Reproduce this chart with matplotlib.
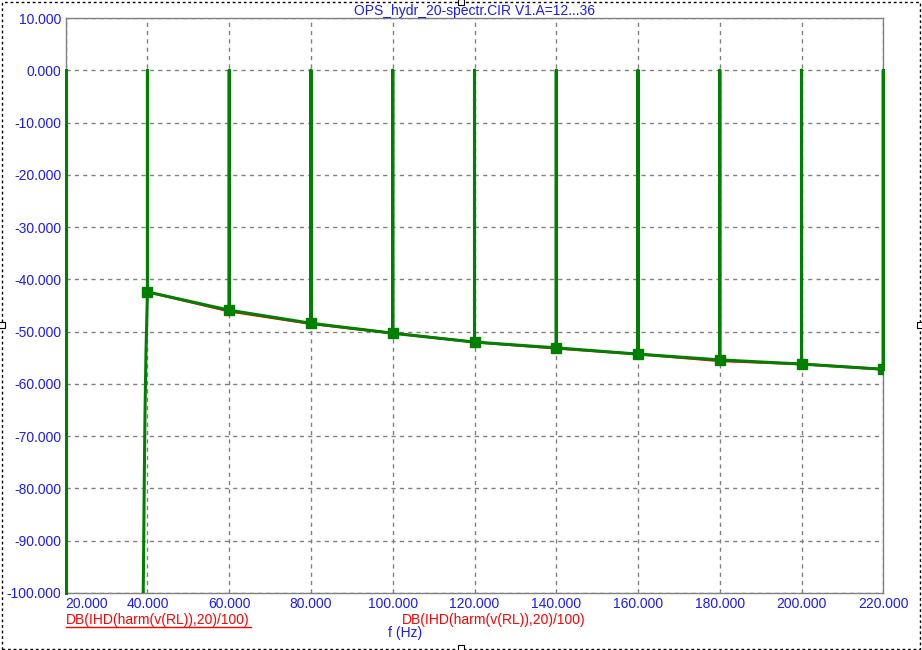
import matplotlib
matplotlib.use('agg')
import matplotlib.pyplot as plt
from matplotlib.lines import Line2D
from matplotlib.patches import Rectangle
import numpy as np

plt.rcParams['font.family'] = ['Liberation Sans', 'DejaVu Sans']

# harmonic frequencies and distortion level
harm_f = [40, 60, 80, 100, 120, 140, 160, 180, 200, 220]
ihd_db_green = [-42.4, -45.9, -48.4, -50.3, -52.0, -53.1, -54.3, -55.4, -56.2, -57.2]
ihd_db_red = [-42.4, -46.1, -48.5, -50.3, -52.0, -53.2, -54.3, -55.6, -56.2, -57.2]

# steep rise just before the first harmonic
rise_f = [38.9, 39.08, 39.23, 39.40, 39.64]
rise_db = [-105.0, -90.8, -77.4, -65.6, -53.9]

# level of the spikes and the sweep range
spike_db = 0.0
f_start = 20.0
f_stop = 220.0

x_ticks = [20, 40, 60, 80, 100, 120, 140, 160, 180, 200, 220]
y_ticks = [10, 0, -10, -20, -30, -40, -50, -60, -70, -80, -90, -100]

title = "OPS_hydr_20-spectr.CIR V1.A=12...36"
trace_name = "DB(IHD(harm(v(RL)),20)/100)"
x_name = "f (Hz)"

W, H = 922, 650
BLUE = '#1a1aff'
GREEN = '#008000'
RED = '#ff0000'
GRAY = '#808080'


def fx(px):
    return px / W


def fy(py):
    return 1 - py / H


def build_green_trace():
    # steep rise, then a spike up to 0 dB at each harmonic
    xs = list(rise_f)
    ys = list(rise_db)
    for f, v in zip(harm_f, ihd_db_green):
        xs += [f, f, f]
        ys += [v, spike_db, v]
    return xs, ys


fig = plt.figure(figsize=(W / 100, H / 100), dpi=100)
ax = fig.add_axes([fx(65.7), fy(593), fx(883.3 - 65.7), (593 - 18) / H])

ax.plot(harm_f, ihd_db_red, color=RED, lw=1.8, zorder=3)
gx, gy = build_green_trace()
ax.plot(gx, gy, color=GREEN, lw=2.2, zorder=3)
ax.plot(harm_f, ihd_db_green, color=GREEN, lw=0, marker='s',
        markersize=6.5, zorder=3)
# spikes sitting on the left and right border, drawn over the spines
ax.plot([f_start, f_start], [spike_db, -100], color=GREEN, lw=2.2,
        clip_on=False, zorder=4)
ax.plot([f_stop, f_stop], [spike_db, ihd_db_green[-1]], color=GREEN,
        lw=2.2, clip_on=False, zorder=4)

ax.set_xlim(f_start, f_stop)
ax.set_ylim(-100, 10)
ax.set_xticks(x_ticks)
ax.set_yticks(y_ticks)
ax.set_xticklabels(["%.3f" % t for t in x_ticks])
ax.set_yticklabels(["%.3f" % t for t in y_ticks])
ax.tick_params(length=0, labelsize=10, labelcolor=BLUE)
ax.tick_params(axis='x', pad=3)
ax.tick_params(axis='y', pad=3)
ax.get_xticklabels()[0].set_horizontalalignment('left')
ax.grid(True, color=GRAY, ls=(0, (3, 3)), lw=1)
ax.set_axisbelow(True)
for sp in ax.spines.values():
    sp.set_color(GRAY)
    sp.set_linewidth(1)

fig.text(fx(474), fy(11), title, color=BLUE, fontsize=10,
         ha='center', va='center')
fig.text(fx(66), fy(620), trace_name, color=RED, fontsize=10,
         ha='left', va='center')
fig.add_artist(Line2D([fx(66), fx(251)], [fy(627), fy(627)],
                      color=RED, lw=1))
fig.text(fx(494), fy(620), trace_name, color=RED, fontsize=10,
         ha='center', va='center')
fig.text(fx(405), fy(633), x_name, color=BLUE, fontsize=10,
         ha='center', va='center')

# dashed frame with the small handles
fig.add_artist(Rectangle((fx(1.5), fy(648.5)), fx(918), 647 / H,
                         fill=False, ec='black', lw=1, ls=(0, (2, 2))))
for hx, hy in [(461, 2), (461, 648), (2, 325), (920, 325)]:
    fig.add_artist(Rectangle((fx(hx - 3), fy(hy + 3)), fx(6), 6 / H,
                             fc='white', ec='black', lw=0.8))

fig.savefig('out.png', dpi=100)
